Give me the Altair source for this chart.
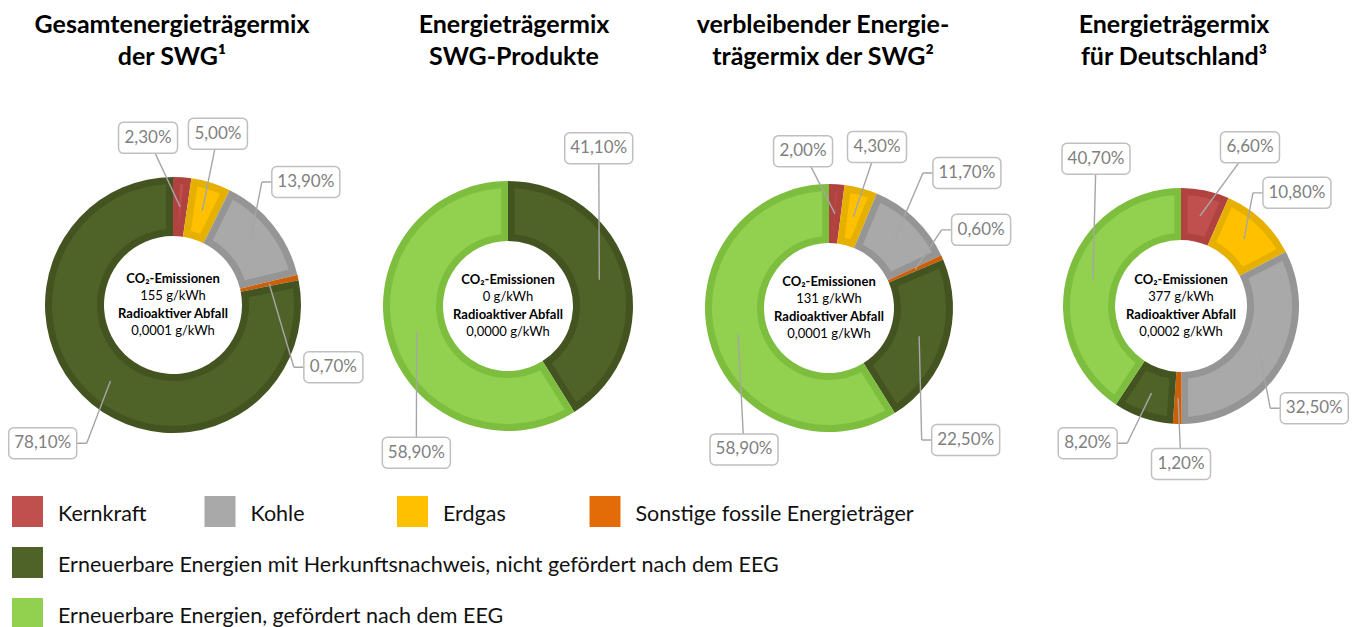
import math
import altair as alt
import pandas as pd

# ---------------------------------------------------------------- data
CATEGORIES = [
    "Kernkraft",
    "Erdgas",
    "Kohle",
    "Sonstige fossile Energieträger",
    "Erneuerbare Energien mit Herkunftsnachweis, nicht gefördert nach dem EEG",
    "Erneuerbare Energien, gefördert nach dem EEG",
]
LEGEND_ORDER = [
    "Kernkraft",
    "Kohle",
    "Erdgas",
    "Sonstige fossile Energieträger",
    "Erneuerbare Energien mit Herkunftsnachweis, nicht gefördert nach dem EEG",
    "Erneuerbare Energien, gefördert nach dem EEG",
]
TITLES = [
    "Gesamtenergieträgermix\nder SWG¹",
    "Energieträgermix\nSWG-Produkte",
    "verbleibender Energie-\nträgermix der SWG²",
    "Energieträgermix\nfür Deutschland³",
]
SHARE_GESAMT = [2.3, 5.0, 13.9, 0.7, 78.1, 0.0]
SHARE_PRODUKTE = [0.0, 0.0, 0.0, 0.0, 41.1, 58.9]
SHARE_REST = [2.0, 4.3, 11.7, 0.6, 22.5, 58.9]
SHARE_DE = [6.6, 10.8, 32.5, 1.2, 8.2, 40.7]
CO2_G_KWH = [155, 0, 131, 377]
WASTE_G_KWH = [0.0001, 0.0000, 0.0001, 0.0002]

# ---------------------------------------------------------------- styles / layout
FILL_COLORS = ["#C0504D", "#FFC000", "#A9A9A9", "#E36C09", "#4F6228", "#92D050"]
EDGE_COLORS = ["#B0423F", "#E6B000", "#959595", "#CC5F08", "#435420", "#7DBE3F"]
PANEL_CX = [165, 500, 821, 1173]
PANEL_CY = [297, 298, 300, 298]
R_OUT = [128, 125, 124, 118]
R_IN = [69, 65, 65, 66]
TITLE_CX = [164, 506, 815, 1166]
# callout direction (degrees clockwise from 12 o'clock) and distance from centre
LABEL_DEG = [
    [351.5, 14.7, 47.2, 111.2, 223.3, None],
    [None, None, None, None, 29.9, 212.0],
    [350.6, 16.6, 45.6, 62.8, 134.0, 211.0],
    [23.5, 45.7, 127.5, 180.0, 214.2, 330.0],
]
LABEL_DIST = [
    [169, 177, 181, 172, 190, None],
    [None, None, None, None, 182, 173],
    [159, 168, 193, 171, 190, 165],
    [173, 162, 168, 158, 166, 170],
]
BORDER = 7

shares = [SHARE_GESAMT, SHARE_PRODUKTE, SHARE_REST, SHARE_DE]

rows = []
for i, vals in enumerate(shares):
    for j, v in enumerate(vals):
        if v <= 0:
            continue
        rows.append(dict(
            chart=i, ord=j, cat=CATEGORIES[j], value=v,
            label=f"{v:.2f}".replace(".", ",") + "%",
            cx=PANEL_CX[i], cy=PANEL_CY[i], r_out=R_OUT[i], r_in=R_IN[i],
            ldeg=LABEL_DEG[i][j], ldist=LABEL_DIST[i][j],
        ))
slices = pd.DataFrame(rows)

center_rows = []
for i in range(4):
    lines = [
        ("CO₂-Emissionen", True, -22),
        (f"{CO2_G_KWH[i]} g/kWh", False, -5),
        ("Radioaktiver Abfall", True, 13),
        (f"{WASTE_G_KWH[i]:.4f}".replace(".", ",") + " g/kWh", False, 30),
    ]
    for t, b, off in lines:
        center_rows.append(dict(chart=i, text=t, bold=b, x=PANEL_CX[i], y=PANEL_CY[i] + off))
center = pd.DataFrame(center_rows)

titles = pd.DataFrame(dict(text=TITLES, x=TITLE_CX, y=[25] * 4))

LEG_COL = [0, 1, 2, 3, 0, 0]
LEG_ROW = [0, 0, 0, 0, 1, 2]
legend = pd.DataFrame(dict(cat=LEGEND_ORDER, col=LEG_COL, row=LEG_ROW))

# ---------------------------------------------------------------- chart
theta_scale = alt.Scale(domain=[0, 100], range=[0, 2 * math.pi])
fill_scale = alt.Scale(domain=CATEGORIES, range=FILL_COLORS)
edge_scale = alt.Scale(domain=CATEGORIES, range=EDGE_COLORS)

base = (
    alt.Chart(slices)
    .transform_window(cum="sum(value)", groupby=["chart"], sort=[alt.SortField("ord")], frame=[None, 0])
    .transform_calculate(
        start="datum.cum - datum.value",
        mid="datum.cum - datum.value / 2",
        ro2=f"datum.r_out - {BORDER}",
        ri2=f"datum.r_in + {BORDER}",
    )
    .transform_calculate(
        ax="datum.cx + (datum.r_in + datum.r_out) / 2 * sin(2 * PI * datum.mid / 100)",
        ay="datum.cy - (datum.r_in + datum.r_out) / 2 * cos(2 * PI * datum.mid / 100)",
        lx="datum.cx + datum.ldist * sin(datum.ldeg * PI / 180)",
        ly="datum.cy - datum.ldist * cos(datum.ldeg * PI / 180)",
        ls="sin(datum.ldeg * PI / 180)",
        bw="length(datum.label) * 9 + 14",
    )
    .transform_calculate(
        bx1="datum.lx - datum.bw / 2",
        bx2="datum.lx + datum.bw / 2",
        by1="datum.ly - 15.5",
        by2="datum.ly + 15.5",
        ex="abs(datum.ls) > 0.55 ? datum.lx - (datum.ls > 0 ? 1 : -1) * (datum.bw / 2 + 10) : datum.lx",
    )
)

X = lambda f: alt.X(f"{f}:Q", scale=None, axis=None)
Y = lambda f: alt.Y(f"{f}:Q", scale=None, axis=None)

ring_edge = base.mark_arc().encode(
    x=X("cx"), y=Y("cy"),
    theta=alt.Theta("start:Q", scale=theta_scale, stack=None),
    theta2="cum:Q",
    radius=alt.Radius("r_out:Q", scale=None),
    radius2="r_in:Q",
    fill=alt.Fill("cat:N", scale=edge_scale, legend=None),
)
ring_fill = base.mark_arc(padAngle=0.098).encode(
    x=X("cx"), y=Y("cy"),
    theta=alt.Theta("start:Q", scale=theta_scale, stack=None),
    theta2="cum:Q",
    radius=alt.Radius("ro2:Q", scale=None),
    radius2="ri2:Q",
    color=alt.Color("cat:N", scale=fill_scale, legend=None),
)
leader1 = base.mark_rule(color="#A6A6A6", strokeWidth=1.4).encode(
    x=X("ax"), y=Y("ay"), x2="ex:Q", y2="ly:Q"
)
leader2 = base.mark_rule(color="#A6A6A6", strokeWidth=1.4).encode(
    x=X("ex"), y=Y("ly"), x2="lx:Q", y2="ly:Q"
)
boxes = base.mark_rect(cornerRadius=5, fill="white", stroke="#BFBFBF", strokeWidth=1.5).encode(
    x=X("bx1"), x2="bx2:Q", y=Y("by1"), y2="by2:Q"
)
labels = base.mark_text(font="Lato", fontSize=17, color="#7F7F7F", align="center", baseline="middle").encode(
    x=X("lx"), y=Y("ly"), text="label:N"
)

center_bold = alt.Chart(center).transform_filter("datum.bold").mark_text(
    font="Lato", fontSize=13, fontWeight="bold", color="#000000", align="center", baseline="alphabetic"
).encode(x=X("x"), y=Y("y"), text="text:N")
center_reg = alt.Chart(center).transform_filter("!datum.bold").mark_text(
    font="Lato", fontSize=13, color="#000000", align="center", baseline="alphabetic"
).encode(x=X("x"), y=Y("y"), text="text:N")

title_text = alt.Chart(titles).mark_text(
    font="Lato", fontSize=25, fontWeight="bold", color="#000000", align="center",
    baseline="alphabetic", lineBreak="\n", lineHeight=32,
).encode(x=X("x"), y=Y("y"), text="text:N")

leg_base = alt.Chart(legend).transform_calculate(
    sx="4 + datum.col * 192.5",
    sy="488 + datum.row * 51",
).transform_calculate(
    sx2="datum.sx + 31", sy2="datum.sy + 31",
    tx="datum.sx + 46", ty="datum.sy + 25",
)
leg_sq = leg_base.mark_rect().encode(
    x=X("sx"), x2="sx2:Q", y=Y("sy"), y2="sy2:Q",
    color=alt.Color("cat:N", scale=fill_scale, legend=None),
)
leg_txt = leg_base.mark_text(
    font="Lato", fontSize=21.5, color="#111111", align="left", baseline="alphabetic"
).encode(x=X("tx"), y=Y("ty"), text="cat:N")

chart = alt.layer(
    ring_edge, ring_fill, leader1, leader2, boxes, labels,
    center_bold, center_reg, title_text, leg_sq, leg_txt,
).properties(
    width=1345, height=619, padding=0,
    autosize=alt.AutoSizeParams(type="none"),
).configure_view(stroke=None)

chart.save("out.html", embed_options={"renderer": "svg", "actions": False})
